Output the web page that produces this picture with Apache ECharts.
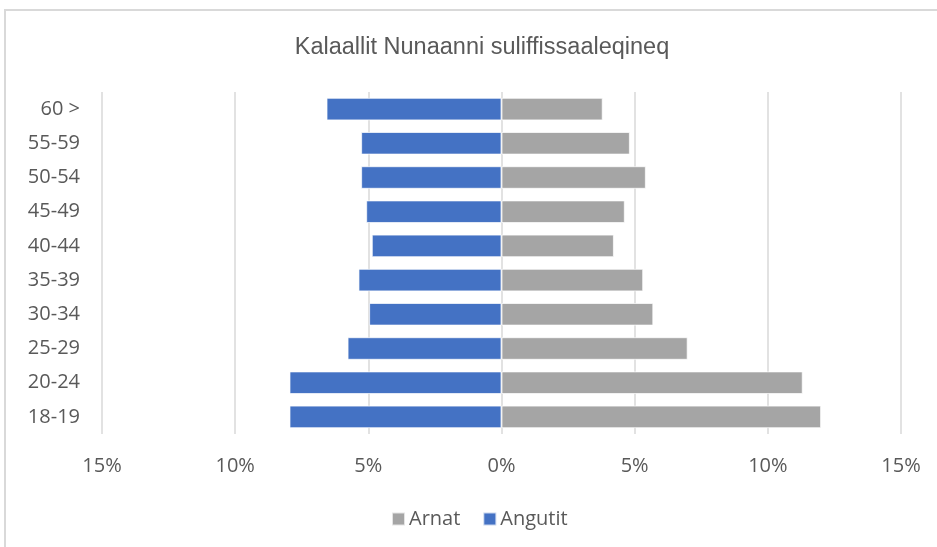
<!DOCTYPE html>
<html>
<head>
<meta charset="utf-8">
<script src="https://cdn.jsdelivr.net/npm/echarts@6/dist/echarts.min.js"></script>
<style>
  html, body { margin: 0; padding: 0; background: #fff; }
  #chart { width: 937px; height: 547px; }
</style>
</head>
<body>
<div id="chart"></div>
<script>
// Age groups, bottom to top
const ageGroups = ['18-19', '20-24', '25-29', '30-34', '35-39', '40-44', '45-49', '50-54', '55-59', '60 >'];
// Share of unemployed, percent
const arnat = [12.0, 11.31, 6.99, 5.70, 5.32, 4.22, 4.63, 5.42, 4.82, 3.80];
const angutit = [7.96, 7.96, 5.78, 4.97, 5.37, 4.87, 5.08, 5.27, 5.27, 6.57];
// Axis ticks (percent)
const axisMin = -15, axisMax = 15, axisStep = 5;

const textColor = '#595959';
const labelFont = "'Open Sans', 'Noto Sans', sans-serif";

const chart = echarts.init(document.getElementById('chart'), null, { renderer: 'canvas' });

chart.setOption({
  animation: false,
  backgroundColor: '#fff',
  graphic: [{
    type: 'rect',
    shape: { x: 5, y: 10, width: 1000, height: 600 },
    style: { fill: 'none', stroke: '#d9d9d9', lineWidth: 2 },
    silent: true
  }],
  title: {
    text: 'Kalaallit Nunaanni suliffissaaleqineq',
    left: 477,
    textAlign: 'center',
    top: 31,
    textStyle: {
      fontFamily: "'Liberation Sans', Arial, sans-serif",
      fontSize: 23.5,
      fontWeight: 'normal',
      color: textColor
    }
  },
  legend: {
    data: ['Arnat', 'Angutit'],
    left: 386,
    top: 504,
    itemWidth: 13,
    itemHeight: 13,
    itemGap: 22,
    icon: 'rect',
    textStyle: { fontFamily: labelFont, fontSize: 20, color: textColor, padding: [0, 0, 0, -1] }
  },
  grid: { left: 102, right: 36, top: 92, bottom: 113, containLabel: false },
  xAxis: {
    type: 'value',
    min: axisMin,
    max: axisMax,
    interval: axisStep,
    axisLine: { show: false },
    axisTick: { show: false },
    splitLine: { lineStyle: { color: '#d9d9d9', width: 1.5 } },
    axisLabel: {
      margin: 22,
      fontFamily: labelFont,
      fontSize: 20,
      color: textColor,
      formatter: v => Math.abs(v) + '%'
    }
  },
  yAxis: {
    type: 'category',
    data: ageGroups,
    axisLine: { show: false },
    axisTick: { show: false },
    axisLabel: {
      margin: 22,
      fontFamily: labelFont,
      fontSize: 20,
      color: textColor
    }
  },
  series: [
    {
      name: 'Arnat',
      type: 'bar',
      data: arnat,
      barCategoryGap: '34%',
      barGap: '-100%',
      itemStyle: { color: '#a5a5a5', borderColor: 'rgba(255,255,255,0.7)', borderWidth: 1 }
    },
    {
      name: 'Angutit',
      type: 'bar',
      data: angutit.map(v => -v),
      barCategoryGap: '34%',
      barGap: '-100%',
      itemStyle: { color: '#4472c4', borderColor: 'rgba(255,255,255,0.7)', borderWidth: 1 }
    }
  ]
});
</script>
</body>
</html>
